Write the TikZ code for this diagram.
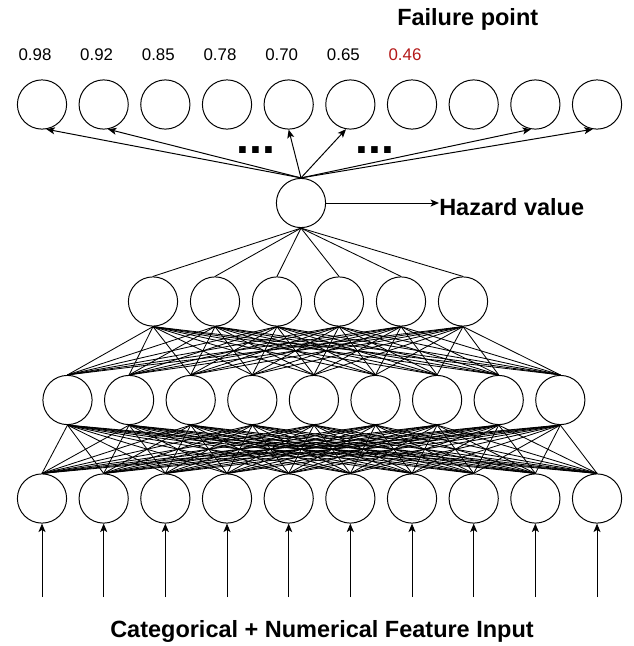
\documentclass[tikz,border=0pt]{standalone}
\usepackage{fontspec}
\setmainfont{Liberation Sans}
\usetikzlibrary{arrows.meta}
\definecolor{failred}{RGB}{180,24,24}
\tikzstyle{neuron} = [circle, minimum size=1.23cm, inner sep=0pt, draw=black, line width=0.7pt]
\tikzstyle{link} = [line width=0.6pt]
\tikzstyle{arrow} = [line width=0.7pt, -{Stealth[length=6pt, width=5pt, inset=1.5pt]}]
\tikzstyle{score} = [inner sep=0pt, font=\fontsize{12}{14}\selectfont]
\tikzstyle{label} = [inner sep=0pt, font=\fontsize{16.7}{20}\selectfont\bfseries]
\tikzstyle{dots} = [inner sep=0pt, font=\fontsize{33}{33}\selectfont\bfseries]

\begin{document}
\begin{tikzpicture}[x=0.025cm, y=-0.025cm]
\useasboundingbox (0,0) rectangle (633,646);

% input and output layers
\foreach \i in {1,...,10} {
  \node (in\i) [neuron] at ({42+61.67*(\i-1)}, 498.5) {};
  \node (out\i) [neuron] at ({42+61.67*(\i-1)}, 104.5) {};
  \coordinate (src\i) at ({42+61.67*(\i-1)}, 597);
  \draw [arrow] (src\i) -- (in\i.south);
}

% hidden layers
\foreach \i in {1,...,9}
  \node (hidA\i) [neuron] at ({67.5+61.6*(\i-1)}, 400) {};
\foreach \i in {1,...,6}
  \node (hidB\i) [neuron] at ({153+62*(\i-1)}, 301.5) {};
\node (hazard) [neuron] at (301,203) {};

\foreach \i in {1,...,9}
  \foreach \j in {1,...,10}
    \draw [link] (hidA\i.south) -- (in\j.north);
\foreach \i in {1,...,6}
  \foreach \j in {1,...,9}
    \draw [link] (hidB\i.south) -- (hidA\j.north);
\foreach \i in {1,...,6}
  \draw [link] (hazard.south) -- (hidB\i.north);

% hazard to failure curve
\foreach \k/\a in {1/-80, 2/-80, 5/-90, 6/-100, 9/-100, 10/-100}
  \draw [arrow] (hazard.north) -- (out\k.\a);
\node (dotsL) [dots] at (256,150) {...};
\node (dotsR) [dots] at (375,150) {...};

\node (hvalue) [label, anchor=base west] at (439,215) {Hazard value};
\draw [arrow] (hazard.east) -- (hazard.east -| hvalue.west);

% survival scores
\foreach \k/\v in {1/0.98, 2/0.92, 3/0.85, 4/0.78, 5/0.70, 6/0.65}
  \node (score\k) [score] at ({35+61.67*(\k-1)}, 54.5) {\v};
\node (score7) [score, text=failred] at ({35+61.67*6}, 54.5) {0.46};
\node (failure) [label, anchor=base west] at (397,25) {Failure point};

\node (input) [label, anchor=base] at (322,637) {Categorical + Numerical Feature Input};

\end{tikzpicture}
\end{document}
